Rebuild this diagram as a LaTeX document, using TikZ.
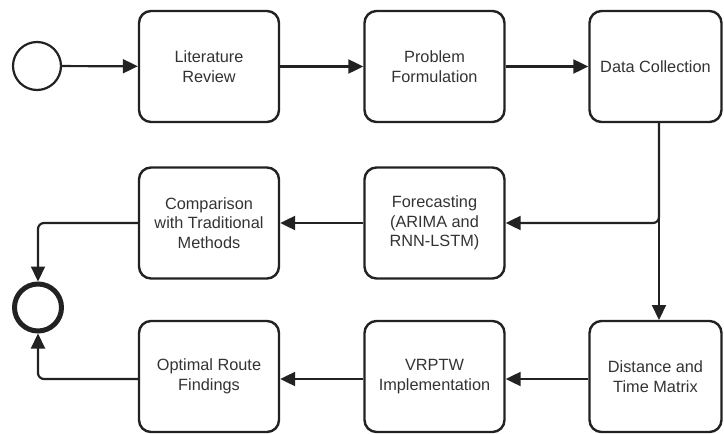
\documentclass[tikz,border=0pt]{standalone}
\usepackage{fontspec}
\setmainfont{Liberation Sans}
\usetikzlibrary{arrows.meta}
\definecolor{ln}{HTML}{222222}
\definecolor{tx}{HTML}{333333}
\tikzset{
  task/.style={draw=ln, line width=2.4pt, rounded corners=12pt, minimum width=140pt, minimum height=111pt, align=center, text=tx, font=\fontsize{16.3}{19.5}\selectfont, inner sep=2pt},
  flow/.style={draw=ln, line width=2.2pt, -{Triangle[length=15pt,width=14pt]}},
}
\begin{document}
\begin{tikzpicture}[x=1pt,y=-1pt]
\useasboundingbox (0,0) rectangle (724,434);
\node[draw=ln, line width=2.2pt, circle, minimum size=48pt, inner sep=0pt] (start) at (37,66) {};
\node[task] (lit) at (209,66.5) {Literature\\Review};
\node[task] (prob) at (434.5,66.5) {Problem\\Formulation};
\node[task, minimum width=132pt] (data) at (655.5,66.5) {Data Collection};
\node[task] (fore) at (434.5,223) {Forecasting\\(ARIMA and\\RNN-LSTM)};
\node[task] (comp) at (209,223) {Comparison\\with Traditional\\Methods};
\node[task, minimum width=132pt] (dist) at (655.5,376.5) {Distance and\\Time Matrix};
\node[task] (vrp) at (434.5,376.5) {VRPTW\\Implementation};
\node[task] (opt) at (209,376.5) {Optimal Route\\Findings};
\node[draw=ln, line width=5pt, circle, minimum size=47pt, inner sep=0pt] (end) at (38,307.5) {};
\coordinate (dtop) at (659,123);
\coordinate (dbot) at (659,320);
\draw[flow] (start) -- (lit);
\draw[flow] (lit) -- (prob);
\draw[flow] (prob) -- (data);
\draw[flow] (dtop) -- (dbot);
\draw[flow, rounded corners=6pt] (dtop) |- (fore.east);
\draw[flow] (fore) -- (comp);
\draw[flow, rounded corners=6pt] (comp.west) -| (end.north);
\draw[flow] (dist.west |- 0,379) -- (vrp.east |- 0,379);
\draw[flow] (vrp.west |- 0,379) -- (opt.east |- 0,379);
\draw[flow, rounded corners=6pt] (opt.west |- 0,379) -| (end.south);
\end{tikzpicture}
\end{document}
